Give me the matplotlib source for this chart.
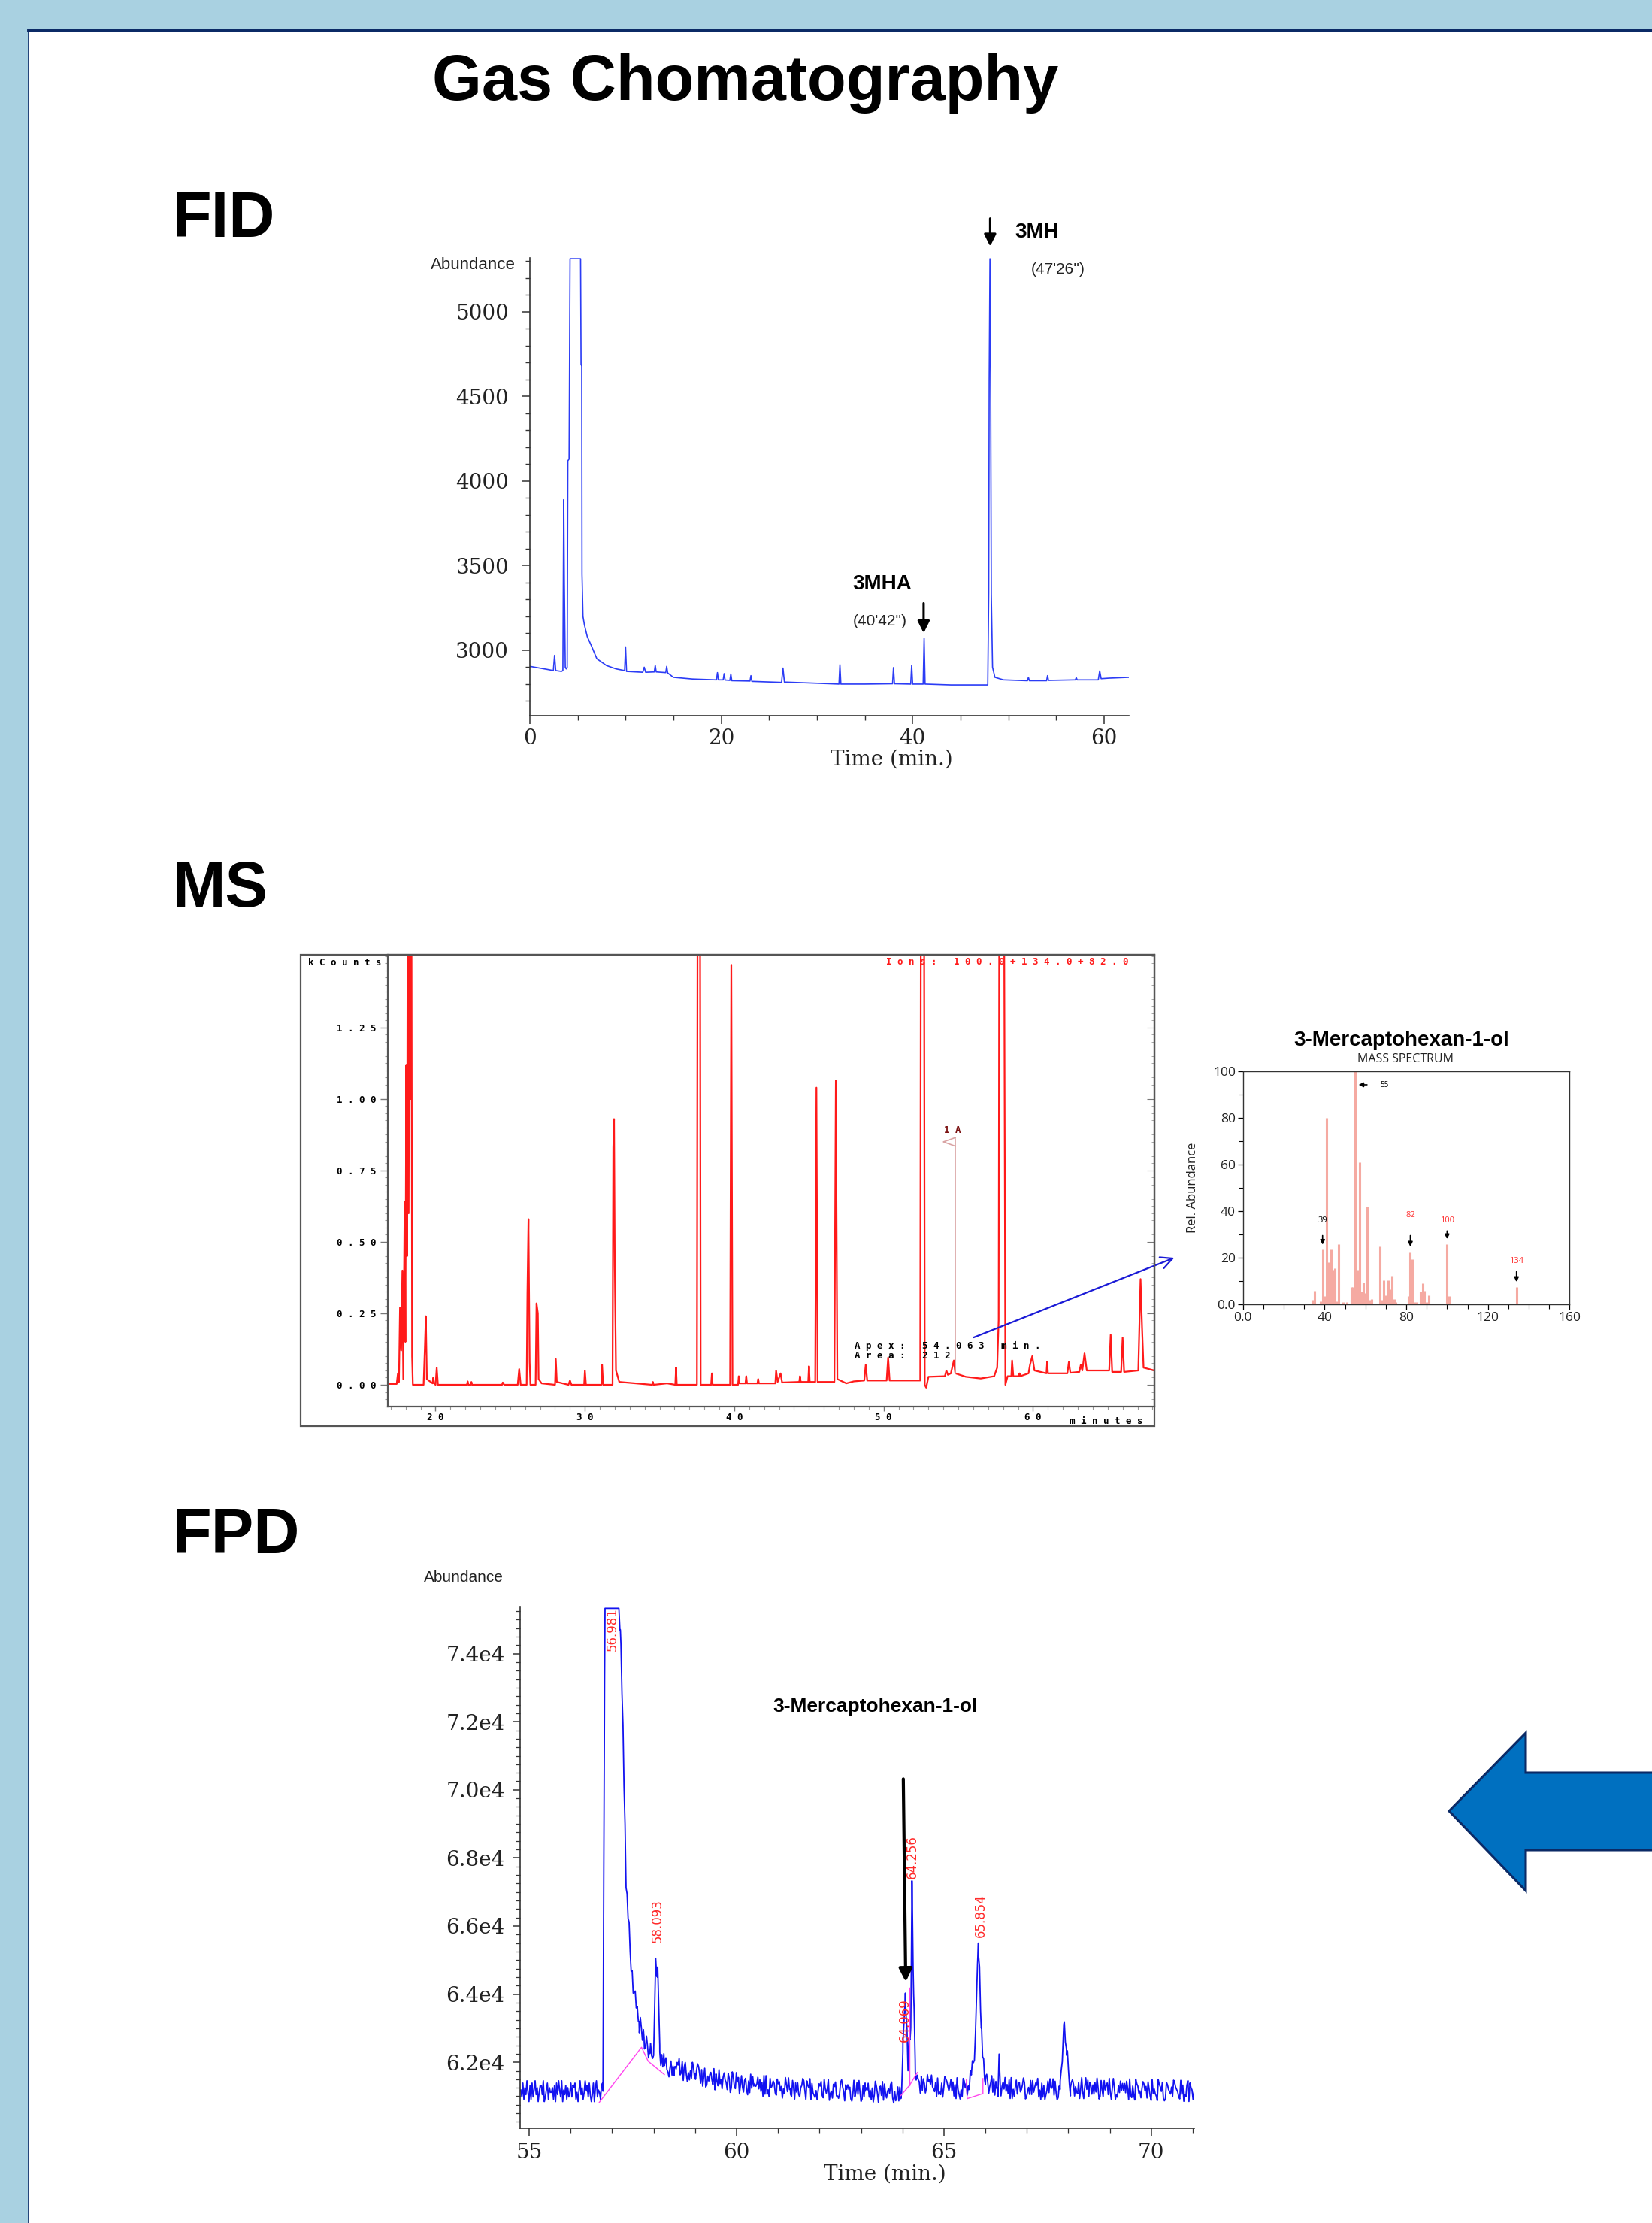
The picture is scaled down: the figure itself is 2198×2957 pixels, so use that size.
# -*- coding: utf-8 -*-

import numpy as np
import matplotlib
matplotlib.use('Agg')
import matplotlib.pyplot as plt
from matplotlib.patches import Rectangle, Polygon
from matplotlib.ticker import FixedLocator, MultipleLocator, FuncFormatter

W, H = 2198, 2957

# FID chromatogram: time (min) and abundance
fid_time = [0.0, 1.0, 2.0, 2.45, 2.58, 2.7, 3.3, 3.45, 3.5, 3.54,
            3.6, 3.7, 3.8, 3.9, 3.97, 4.1, 4.2, 5.3, 5.35, 5.42,
            5.45, 5.55, 5.7, 6.0, 6.4, 7.0, 8.0, 9.0, 9.9, 10.0,
            10.1, 11.8, 11.95, 12.1, 13.0, 13.1, 13.2, 14.2, 14.3, 14.4,
            15.0, 17.0, 19.5, 19.6, 19.7, 20.2, 20.3, 20.4, 20.9, 21.0,
            21.1, 23.0, 23.1, 23.2, 26.3, 26.45, 26.6, 30.0, 32.3, 32.4,
            32.5, 35.0, 37.9, 38.0, 38.1, 39.8, 39.9, 40.0, 41.1, 41.2,
            41.3, 44.0, 47.85, 47.95, 48.0, 48.08, 48.16, 48.22, 48.35, 48.6,
            49.5, 52.0, 52.1, 52.2, 54.0, 54.1, 54.2, 57.0, 57.1, 57.2,
            59.4, 59.55, 59.7, 60.5, 62.6]
fid_signal = [2905, 2895, 2885, 2880, 2970, 2880, 2875, 2880, 3460, 3890,
              3400, 2900, 2890, 2900, 4120, 4130, 5315, 5315, 4690, 4680,
              3450, 3200, 3150, 3080, 3030, 2950, 2910, 2890, 2880, 3020,
              2875, 2870, 2900, 2870, 2872, 2910, 2872, 2868, 2905, 2866,
              2840, 2830, 2825, 2868, 2825, 2825, 2862, 2824, 2822, 2860,
              2820, 2818, 2850, 2816, 2810, 2895, 2812, 2805, 2800, 2915,
              2800, 2800, 2802, 2898, 2802, 2800, 2912, 2800, 2800, 3072,
              2800, 2795, 2795, 3340, 4600, 5315, 4470, 3330, 2900, 2840,
              2825, 2820, 2840, 2820, 2820, 2850, 2822, 2825, 2838, 2825,
              2825, 2878, 2832, 2835, 2840]

# MS chromatogram (ions 100+134+82): (min, kCounts); off-scale peaks set to 2.0
ms_trace = [(16.8, 0.003), (17.4, 0.003), (17.48, 0.04), (17.55, 0.01), (17.62, 0.27),
            (17.7, 0.12), (17.78, 0.40), (17.84, 0.02), (17.93, 0.64), (17.98, 0.15),
            (18.04, 1.12), (18.09, 0.45), (18.14, 2.0), (18.2, 0.6), (18.26, 2.0),
            (18.33, 1.0), (18.38, 2.0), (18.43, 0.1), (18.48, 0.0), (19.2, 0.0),
            (19.28, 0.12), (19.35, 0.24), (19.42, 0.02), (19.8, 0.005), (19.85, 0.025),
            (19.9, 0.005), (20.0, 0.0), (20.08, 0.06), (20.16, 0.0), (22.1, 0.0),
            (22.15, 0.012), (22.2, 0.0), (22.35, 0.0), (22.4, 0.01), (22.45, 0.0),
            (24.45, 0.0), (24.5, 0.008), (24.6, 0.0), (25.5, 0.0), (25.6, 0.055),
            (25.7, 0.0), (26.1, 0.0), (26.15, 0.32), (26.22, 0.58), (26.3, 0.08),
            (26.35, 0.0), (26.7, 0.0), (26.76, 0.285), (26.85, 0.25), (26.9, 0.02),
            (27.1, 0.005), (28.0, 0.0), (28.05, 0.09), (28.12, 0.01), (28.9, 0.0),
            (29.0, 0.015), (29.1, 0.0), (29.95, 0.0), (30.0, 0.05), (30.07, 0.0),
            (31.1, 0.0), (31.15, 0.07), (31.22, 0.0), (31.85, 0.0), (31.9, 0.83),
            (31.95, 0.93), (32.0, 0.42), (32.08, 0.05), (32.3, 0.01), (34.5, 0.0),
            (34.55, 0.01), (34.6, 0.0), (35.5, 0.005), (36.05, 0.0), (36.1, 0.06),
            (36.15, 0.0), (37.5, 0.0), (37.55, 2.0), (37.7, 2.0), (37.75, 0.0),
            (38.45, 0.0), (38.5, 0.04), (38.55, 0.0), (39.72, 0.0), (39.8, 1.47),
            (39.88, 0.0), (40.25, 0.0), (40.3, 0.03), (40.35, 0.005), (40.75, 0.005),
            (40.8, 0.03), (40.85, 0.005), (41.55, 0.005), (41.6, 0.02), (41.65, 0.005),
            (42.75, 0.005), (42.8, 0.05), (42.9, 0.01), (43.1, 0.04), (43.2, 0.008),
            (44.35, 0.01), (44.4, 0.03), (44.45, 0.01), (44.95, 0.01), (45.0, 0.065),
            (45.05, 0.01), (45.42, 0.01), (45.5, 1.04), (45.58, 0.01), (46.7, 0.01),
            (46.8, 1.065), (46.9, 0.02), (47.5, 0.005), (48.0, 0.012), (48.7, 0.015),
            (48.8, 0.07), (48.9, 0.015), (50.2, 0.015), (50.3, 0.095), (50.4, 0.015),
            (52.45, 0.015), (52.5, 2.0), (52.7, 2.0), (52.75, 0.0), (52.85, -0.01),
            (53.0, 0.028), (54.1, 0.03), (54.2, 0.05), (54.3, 0.035), (54.5, 0.04),
            (54.7, 0.085), (54.8, 0.04), (55.5, 0.028), (56.5, 0.022), (57.4, 0.03),
            (57.6, 0.06), (57.7, 0.227), (57.75, 2.0), (58.05, 2.0), (58.15, 0.0),
            (58.3, 0.03), (58.55, 0.03), (58.6, 0.085), (58.68, 0.03), (59.05, 0.03),
            (59.1, 0.04), (59.15, 0.03), (59.7, 0.04), (59.8, 0.07), (59.95, 0.10),
            (60.1, 0.05), (60.9, 0.04), (60.95, 0.08), (61.0, 0.04), (62.3, 0.04),
            (62.4, 0.08), (62.5, 0.042), (63.1, 0.045), (63.2, 0.07), (63.3, 0.05),
            (63.45, 0.11), (63.6, 0.05), (65.1, 0.05), (65.2, 0.175), (65.3, 0.045),
            (65.9, 0.045), (66.0, 0.165), (66.1, 0.045), (67.05, 0.05), (67.2, 0.37),
            (67.3, 0.2), (67.4, 0.06), (68.13, 0.05)]

# mass spectrum of 3-mercaptohexan-1-ol
spec_mz = [34, 35, 38, 39, 40, 41, 42, 43, 44, 45, 46, 47, 48, 49, 50, 51, 52, 53, 54, 55,
           56, 57, 58, 59, 60, 61, 62, 63, 65, 67, 68, 69, 70, 71, 72, 73, 74, 75, 77, 79,
           81, 82, 83, 84, 85, 87, 88, 89, 90, 91, 100, 101, 116, 134, 135, 136]
spec_abund = [2, 6, 1.5, 23.5, 3.5, 80, 18, 23.5, 15, 15.5, 1.5, 26, 0.5, 1.2, 0.5, 1.2, 0.5, 7.5, 7.5, 100,
              15, 61, 5.5, 9.5, 5, 42, 2, 2.5, 0.5, 25, 2, 10.5, 4, 10.5, 6.5, 12.5, 2.5, 1, 0.5, 0.5,
              3.5, 22.5, 19.5, 1, 1, 5.5, 9, 6, 1, 4, 26, 3.5, 0.5, 7.5, 0.5, 0.3]
spec_marks = [(39, '39', 'black', 36.0, 30.5, 24.8),
              (82, '82', '#ff3030', 38.4, 30.5, 24.0),
              (100, '100', '#ff3030', 36.0, 32.5, 27.2),
              (134, '134', '#ff3030', 18.8, 15.0, 8.8)]

# FPD chromatogram without detector noise: (min, abundance)
fpd_trace = [(54.8, 61150), (56.4, 61150), (56.78, 61150), (56.8, 67700), (56.83, 76000),
             (57.14, 76000), (57.2, 74700), (57.26, 72050), (57.34, 67100), (57.43, 65450),
             (57.52, 64030), (57.65, 63200), (57.77, 62730), (57.91, 62260), (58.0, 62200),
             (58.05, 65030), (58.1, 64500), (58.15, 62300), (58.26, 61900), (58.5, 61850),
             (59.0, 61670), (59.5, 61490), (60.1, 61370), (61.3, 61230), (63.1, 61150),
             (63.98, 61100), (64.01, 62300), (64.07, 64030), (64.13, 62000), (64.2, 63000),
             (64.23, 67330), (64.27, 64000), (64.31, 61700), (64.45, 61350), (65.6, 61200),
             (65.75, 62500), (65.83, 65500), (65.9, 63000), (66.0, 61350), (66.3, 61250),
             (66.33, 62240), (66.36, 61250), (67.8, 61200), (67.89, 63110), (67.96, 62200),
             (68.05, 61250), (71.03, 61150)]
# detector noise, one digit per step across the run
fpd_noise_digits = ('5281639407' '1825936047' '7390258164' '4617083952' '9053716248'
                    '2768140593' '6149572830' '3806925417' '8472031659' '0935468172'
                    '5172849306' '2694730851' '7028516943' '4351987062' '9683204715'
                    '1547692380' '6830415297' '3269851704' '8015367429' '0742935168'
                    '5418602973' '2957048316' '7206193845' '4583726091' '9130845762'
                    '1867350429' '6394218507' '3721569840' '8659073214' '0476821953'
                    '5903417682' '2138964075' '7561039248'
                    '3940172865' '8251603974' '0673918425' '6489205137' '1725864390'
                    '9316087254' '4082751396' '7594326081' '2160498753' '5837160942'
                    '0419857263' '8362045719' '3705289614' '6928174035' '1574936280'
                    '9041582673' '4697013528' '2835769140' '7160248395' '5928301674'
                    '0384695217' '8615327049' '3059481762' '6273950184' '1846729305'
                    '9502163847' '4738509216' '2097634158' '7461852093' '5320976481'
                    '0187543629' '8654219370' '3279086514')
fpd_integration = [[(56.69, 60820), (57.71, 62440), (57.87, 62030), (58.26, 61640)],
                   [(63.96, 61020), (64.17, 61320), (64.36, 61700)],
                   [(64.17, 61320), (64.17, 64200)],
                   [(65.54, 61480), (65.56, 60930), (65.94, 61080), (65.94, 61520)]]
fpd_peak_labels = [(57.01, 74710, '56.981'), (58.10, 66150, '58.093'),
                   (64.05, 63240, '64.069'), (64.24, 68020, '64.256'),
                   (65.88, 66310, '65.854')]

plt.rcParams['font.family'] = ['Liberation Sans', 'DejaVu Sans']


def rect(l, t, r, b):
    return [l / W, 1 - b / H, (r - l) / W, (b - t) / H]


def ftext(fig, x, y, s, **kw):
    return fig.text(x / W, 1 - y / H, s, **kw)


def spaced(s):
    return ' '.join(s)


fig = plt.figure(figsize=(W / 100, H / 100), dpi=100)
fig.patch.set_facecolor('#a9d1e1')

# white poster panel with navy edge
fig.patches.append(Rectangle((38 / W, 0), 1, 1 - 39 / H, transform=fig.transFigure,
                             facecolor='white', edgecolor='none', zorder=-10))
fig.add_artist(plt.Line2D([38 / W, 1], [1 - 39.5 / H, 1 - 39.5 / H], color='#0b2a66',
                          lw=3.5, zorder=-5))
fig.add_artist(plt.Line2D([38 / W, 38 / W], [0, 1 - 39.5 / H], color='#0b2a66',
                          lw=1.2, zorder=-5))

ftext(fig, 575, 133, 'Gas Chomatography', fontsize=61, fontweight='bold', va='baseline')
ftext(fig, 229, 315, 'FID', fontsize=61, fontweight='bold', va='baseline')
ftext(fig, 229, 1206, 'MS', fontsize=61, fontweight='bold', va='baseline')
ftext(fig, 229, 2066, 'FPD', fontsize=61, fontweight='bold', va='baseline')

# ---------------- FID ----------------
ax = fig.add_axes(rect(705, 343, 1502, 952))
ax.set_facecolor('none')
ax.plot(fid_time, fid_signal, color='#2b3cf5', lw=1.2)
ax.set_xlim(0, 62.6)
ax.set_ylim(2613, 5320)
for s in ['top', 'right']:
    ax.spines[s].set_visible(False)
for s in ['left', 'bottom']:
    ax.spines[s].set_color('#333333')
    ax.spines[s].set_linewidth(1.2)
ax.yaxis.set_major_locator(FixedLocator([3000, 3500, 4000, 4500, 5000]))
ax.yaxis.set_minor_locator(MultipleLocator(100))
ax.xaxis.set_major_locator(FixedLocator([0, 20, 40, 60]))
ax.xaxis.set_minor_locator(MultipleLocator(5))
ax.tick_params(which='major', length=8, width=1.1, color='#333333',
               labelsize=20, labelfontfamily='DejaVu Serif', labelcolor='#222222')
ax.tick_params(which='minor', length=4.5, width=1.0, color='#333333')
ax.tick_params(axis='y', which='major', pad=12)
ax.tick_params(axis='x', which='major', pad=4)
ftext(fig, 686, 353, 'Abundance', fontsize=16, ha='right', va='center', color='#222222')
ftext(fig, 1186, 1010, 'Time (min.)', fontsize=20, family='DejaVu Serif', ha='center',
      va='center', color='#222222')
ax.annotate('', xy=(48.1, 5376), xytext=(48.1, 5565), annotation_clip=False,
            arrowprops=dict(arrowstyle='-|>', color='black', lw=2.2, mutation_scale=24))
ax.text(50.7, 5469, '3MH', fontsize=20, fontweight='bold', va='center', clip_on=False)
ax.text(52.4, 5251, "(47'26'')", fontsize=15, va='center', color='#222222')
ax.annotate('', xy=(41.15, 3089), xytext=(41.15, 3290),
            arrowprops=dict(arrowstyle='-|>', color='black', lw=2.2, mutation_scale=24))
ax.text(36.8, 3391, '3MHA', fontsize=20, fontweight='bold', ha='center', va='center')
ax.text(36.6, 3173, "(40'42'')", fontsize=15, ha='center', va='center', color='#222222')

# ---------------- MS ----------------
fig.patches.append(Rectangle((400 / W, 1 - 1897 / H), 1136 / W, 627 / H,
                             transform=fig.transFigure, facecolor='none',
                             edgecolor='#555555', lw=1.6, zorder=5))
ax2 = fig.add_axes(rect(515.5, 1270, 1536, 1871))
ax2.set_facecolor('none')
ms = np.array(ms_trace)
ax2.plot(ms[:, 0], ms[:, 1], color='#ff1a1a', lw=1.6)
ax2.set_xlim(16.78, 68.13)
ax2.set_ylim(-0.0763, 1.505)
for s in ax2.spines.values():
    s.set_color('#555555')
    s.set_linewidth(1.6)
ax2.yaxis.set_major_locator(FixedLocator([0, 0.25, 0.5, 0.75, 1.0, 1.25]))
ax2.yaxis.set_minor_locator(MultipleLocator(0.025))
ax2.xaxis.set_major_locator(MultipleLocator(10))
ax2.xaxis.set_minor_locator(MultipleLocator(1))
ax2.yaxis.set_major_formatter(FuncFormatter(lambda v, p: spaced('%.2f' % v)))
ax2.xaxis.set_major_formatter(FuncFormatter(lambda v, p: spaced('%.0f' % v)))
ax2.tick_params(which='major', length=7.5, width=1.0, color='#777777',
                labelsize=9, labelfontfamily='DejaVu Sans Mono')
ax2.tick_params(axis='x', which='major', length=4, pad=2)
ax2.tick_params(which='minor', length=3, width=0.8, color='#999999')
for lab in ax2.get_xticklabels() + ax2.get_yticklabels():
    lab.set_fontweight('bold')
sec = ax2.secondary_yaxis('right')
sec.yaxis.set_major_locator(FixedLocator([0, 0.25, 0.5, 0.75, 1.0, 1.25]))
sec.yaxis.set_minor_locator(MultipleLocator(0.025))
sec.tick_params(which='major', direction='in', length=7.5, color='#777777', labelright=False)
sec.tick_params(which='minor', direction='in', length=3, color='#999999')
sec.spines['right'].set_color('#555555')

mono = dict(family='DejaVu Sans Mono', fontsize=9, fontweight='bold')
ftext(fig, 410, 1281, spaced('kCounts'), va='center', **mono)
ftext(fig, 1179, 1280, spaced('Ions: 100.0+134.0+82.0'), va='center', color='#ff1a1a', **mono)
ftext(fig, 1423, 1890, spaced('minutes'), va='center', **mono)

# peak marker 1A
ax2.plot([54.8, 54.8], [0.04, 0.86], color='#d9a3a3', lw=1.2)
ax2.plot([54.8, 54.0, 54.8], [0.865, 0.85, 0.835], color='#d9a3a3', lw=1.2)
ax2.text(54.6, 0.89, spaced('1A'), color='#7a1010', ha='center', va='center', **mono)
ax2.text(48.04, 0.135, spaced('Apex: 54.063 min.'), va='center', **mono)
ax2.text(48.04, 0.10, spaced('Area: 212'), va='center', **mono)
ax2.annotate('', xy=(1565, H - 1672), xycoords='figure pixels',
             xytext=(55.9, 0.163), textcoords='data',
             arrowprops=dict(arrowstyle='->', color='#1a1ad6', lw=1.6, mutation_scale=28))

# ---------------- mass spectrum ----------------
ax3 = fig.add_axes(rect(1653.8, 1425.3, 2088.3, 1735.3))
ax3.set_facecolor('none')
ax3.vlines(spec_mz, 0, spec_abund, color='#f5aaa2', lw=2.2)
ax3.set_xlim(0, 160)
ax3.set_ylim(0, 100)
for s in ax3.spines.values():
    s.set_color('#333333')
    s.set_linewidth(1.0)
ax3.xaxis.set_major_locator(MultipleLocator(40))
ax3.xaxis.set_minor_locator(MultipleLocator(10))
ax3.yaxis.set_major_locator(MultipleLocator(20))
ax3.yaxis.set_minor_locator(MultipleLocator(10))
ax3.xaxis.set_major_formatter(FuncFormatter(lambda v, p: '0.0' if v == 0 else '%d' % v))
ax3.yaxis.set_major_formatter(FuncFormatter(lambda v, p: '0.0' if v == 0 else '%d' % v))
ax3.tick_params(which='major', length=5, width=0.9, labelsize=12.5,
                labelfontfamily='Open Sans', labelcolor='#222222', pad=2)
ax3.tick_params(which='minor', length=4, width=0.8)
ax3.set_ylabel('Rel. Abundance', fontsize=12, family='Open Sans', labelpad=14, color='#222222')
ftext(fig, 1865, 1384, '3-Mercaptohexan-1-ol', fontsize=20, fontweight='bold',
      ha='center', va='center')
ftext(fig, 1870, 1409, 'MASS SPECTRUM', fontsize=11.5, family='Open Sans',
      ha='center', va='center', color='#222222')
for mz, lab, col, ty, a0, a1 in spec_marks:
    ax3.text(mz, ty, lab, fontsize=8, color=col, ha='center', va='center', family='Open Sans')
    ax3.annotate('', xy=(mz, a1), xytext=(mz, a0),
                 arrowprops=dict(arrowstyle='-|>', color='black', lw=1.2, mutation_scale=9))
ax3.annotate('', xy=(55.6, 94.3), xytext=(61.8, 94.3),
             arrowprops=dict(arrowstyle='-|>', color='black', lw=1.2, mutation_scale=9))
ax3.text(69.2, 94.0, '55', fontsize=7, ha='center', va='center', family='Open Sans')

# ---------------- FPD ----------------
ax4 = fig.add_axes(rect(692.4, 2137, 1588.7, 2830.8))
ax4.set_facecolor('none')
knots = np.array(fpd_trace, dtype=float)
digits = np.array([int(c) for c in fpd_noise_digits], dtype=float)
grid = np.linspace(54.8, 71.03, len(digits))
t_all = np.union1d(grid, knots[:, 0])
v_all = np.interp(t_all, knots[:, 0], knots[:, 1])
noise = np.zeros_like(t_all)
noise[np.searchsorted(t_all, grid)] = (digits - 4.5) * 68
v_all = np.minimum(v_all + noise, 75330)
ax4.plot(t_all, v_all, color='#1212f0', lw=1.3)
for seg in fpd_integration:
    seg = np.array(seg)
    ax4.plot(seg[:, 0], seg[:, 1], color='#ff44ee', lw=1.0)
for t, v, lab in fpd_peak_labels:
    ax4.text(t, v, lab, rotation=90, fontsize=12, color='#ff2a2a',
             ha='center', va='center', family='DejaVu Sans')
ax4.set_xlim(54.79, 71.03)
ax4.set_ylim(60066, 75382)
for s in ['top', 'right']:
    ax4.spines[s].set_visible(False)
for s in ['left', 'bottom']:
    ax4.spines[s].set_color('#333333')
    ax4.spines[s].set_linewidth(1.2)
ax4.yaxis.set_major_locator(FixedLocator([62000, 64000, 66000, 68000, 70000, 72000, 74000]))
ax4.yaxis.set_major_formatter(FuncFormatter(lambda v, p: '%.1fe4' % (v / 1e4)))
ax4.yaxis.set_minor_locator(MultipleLocator(250))
ax4.xaxis.set_major_locator(FixedLocator([55, 60, 65, 70]))
ax4.xaxis.set_minor_locator(MultipleLocator(1))
ax4.tick_params(which='major', length=7, width=1.1, color='#333333',
                labelsize=20, labelfontfamily='DejaVu Serif', labelcolor='#222222')
ax4.tick_params(which='minor', length=4, width=0.9, color='#333333')
ax4.tick_params(axis='y', which='major', pad=8)
ax4.tick_params(axis='x', which='major', pad=7)
ftext(fig, 564, 2099, 'Abundance', fontsize=15, va='center', color='#222222')
ftext(fig, 1177, 2892, 'Time (min.)', fontsize=20, family='DejaVu Serif', ha='center',
      va='center', color='#222222')
ax4.text(63.35, 72446, '3-Mercaptohexan-1-ol', fontsize=19, fontweight='bold',
         ha='center', va='center')
ax4.annotate('', xy=(64.08, 64300), xytext=(64.02, 70380),
             arrowprops=dict(arrowstyle='-|>', color='black', lw=3, mutation_scale=26))

# big pointer arrow on the right
arrow_px = [(1928, 2409), (2030, 2305), (2030, 2358), (2205, 2358),
            (2205, 2461), (2030, 2461), (2030, 2515)]
fig.patches.append(Polygon([(x / W, 1 - y / H) for x, y in arrow_px], closed=True,
                           transform=fig.transFigure, facecolor='#0070c0',
                           edgecolor='#0b2a66', lw=2.2, zorder=6))

fig.savefig('out.png', dpi=100, facecolor=fig.get_facecolor())
